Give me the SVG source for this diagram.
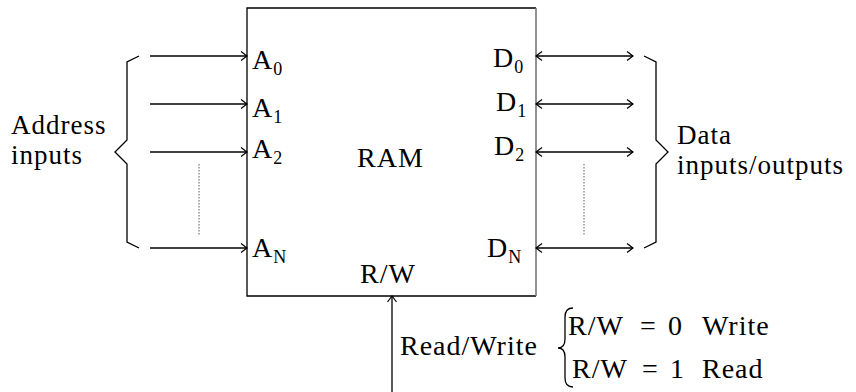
<svg xmlns="http://www.w3.org/2000/svg" width="856" height="392" viewBox="0 0 856 392">
<style>
.t{font-size:28px;fill:#000;letter-spacing:1px}
.two{font-size:27px}
.sub{font-size:18px}
.ln{stroke:#000;stroke-width:1.3;fill:none}
.dot{stroke:#777;stroke-width:1.2;stroke-dasharray:1.5 1.5;fill:none}
</style>
<defs>
<marker id="ah" markerUnits="userSpaceOnUse" markerWidth="10" markerHeight="12" refX="8" refY="6" orient="auto-start-reverse">
<path d="M2,1.5 L8,6 L2,10.5" fill="none" stroke="#000" stroke-width="1.2"/>
</marker>
</defs>
<rect width="856" height="392" fill="#fff"/>
<g class="t" style="font-family:'Liberation Serif','Times New Roman',serif">
<g id="ram">
<path d="M536,8 L247,8 L247,296 L536,296" class="ln"/>
<path d="M536,8 L536,296" stroke="#777" stroke-width="1.6" fill="none"/>
<text x="357" y="167">RAM</text>
<text x="360" y="283">R/W</text>
<text x="252" y="69">A<tspan class="sub" dy="6">0</tspan></text>
<text x="252" y="117">A<tspan class="sub" dy="6">1</tspan></text>
<text x="252" y="158">A<tspan class="sub" dy="6">2</tspan></text>
<text x="252" y="257">A<tspan class="sub" dy="6">N</tspan></text>
<text x="493" y="67">D<tspan class="sub" dy="6">0</tspan></text>
<text x="496" y="111">D<tspan class="sub" dy="6">1</tspan></text>
<text x="494" y="155">D<tspan class="sub" dy="6">2</tspan></text>
<text x="487" y="257">D<tspan class="sub" dy="6">N</tspan></text>
</g>
<g id="address" class="two">
<text x="11" y="134">Address</text>
<text x="11" y="164">inputs</text>
<path d="M139,56 L127,62 L127,140 L115,152 L127,164 L127,242 L139,248" class="ln"/>
</g>
<g id="data" class="two">
<text x="677" y="144">Data</text>
<text x="677" y="174">inputs/outputs</text>
<path d="M644,56 L656,62 L656,140 L668,152 L656,164 L656,242 L644,248" class="ln"/>
</g>
<g id="rw">
<text x="400" y="355">Read/Write</text>
<path d="M573,308 Q565,308 565,317 L565,339 Q565,348 558,348 Q565,348 565,357 L565,378 Q565,387 573,387" class="ln"/>
<text y="335"><tspan x="568">R/W</tspan><tspan x="640">=</tspan><tspan x="668">0</tspan><tspan x="702">Write</tspan></text>
<text y="378"><tspan x="572">R/W</tspan><tspan x="642">=</tspan><tspan x="670">1</tspan><tspan x="702">Read</tspan></text>
</g>
</g>
<g id="connectors">
<line x1="150" y1="56" x2="247" y2="56" class="ln" marker-end="url(#ah)"/>
<line x1="150" y1="104" x2="247" y2="104" class="ln" marker-end="url(#ah)"/>
<line x1="150" y1="152" x2="247" y2="152" class="ln" marker-end="url(#ah)"/>
<line x1="150" y1="248" x2="247" y2="248" class="ln" marker-end="url(#ah)"/>
<line x1="536" y1="56" x2="633" y2="56" class="ln" marker-start="url(#ah)" marker-end="url(#ah)"/>
<line x1="536" y1="104" x2="633" y2="104" class="ln" marker-start="url(#ah)" marker-end="url(#ah)"/>
<line x1="536" y1="152" x2="633" y2="152" class="ln" marker-start="url(#ah)" marker-end="url(#ah)"/>
<line x1="536" y1="248" x2="633" y2="248" class="ln" marker-start="url(#ah)" marker-end="url(#ah)"/>
<line x1="392" y1="392" x2="392" y2="296" class="ln" marker-end="url(#ah)"/>
<line x1="199" y1="164" x2="199" y2="236" class="dot"/>
<line x1="584" y1="164" x2="584" y2="236" class="dot"/>
</g>
</svg>
